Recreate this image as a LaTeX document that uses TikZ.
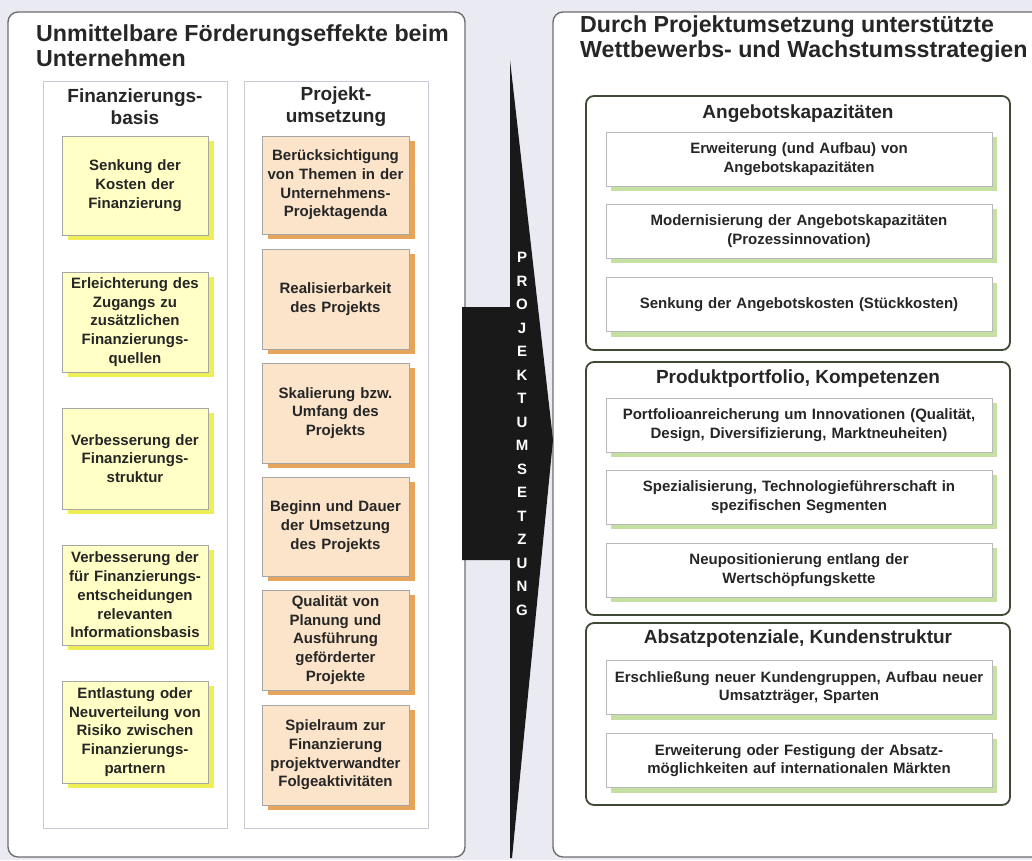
\documentclass[tikz,border=0pt]{standalone}
\usepackage{fontspec}
\setmainfont{Liberation Sans}
\usetikzlibrary{shadows}
\definecolor{bgc}{HTML}{EAEAF2}
\definecolor{panelc}{HTML}{6E6E6E}
\definecolor{colc}{HTML}{C8C8D6}
\definecolor{yfill}{HTML}{FFFFC6}
\definecolor{yshad}{HTML}{EEEE55}
\definecolor{ofill}{HTML}{FBE4CA}
\definecolor{oshad}{HTML}{E6A55A}
\definecolor{wbord}{HTML}{B8B8B8}
\definecolor{gshad}{HTML}{C6E0A4}
\definecolor{grpc}{HTML}{3E4A36}
\definecolor{txt}{HTML}{262626}
\begin{document}
\begin{tikzpicture}[x=1pt,y=-1pt,
  panel/.style={draw=panelc,line width=1.4pt,rounded corners=10pt,fill=white},
  colbox/.style={draw=colc,line width=0.8pt,fill=white},
  boxtext/.style={text=txt,align=center,inner sep=0pt,font=\bfseries\fontsize{15}{18.7}\selectfont},
  ybox/.style={boxtext,draw=gray!70,line width=0.6pt,fill=yfill,minimum width=146pt,text width=144pt,
    drop shadow={shadow xshift=6pt,shadow yshift=-5pt,fill=yshad,opacity=1}},
  obox/.style={boxtext,draw=gray!70,line width=0.6pt,fill=ofill,minimum width=147pt,text width=145pt,
    drop shadow={shadow xshift=6pt,shadow yshift=-5pt,fill=oshad,opacity=1}},
  wbox/.style={boxtext,draw=wbord,line width=0.6pt,fill=white,minimum width=386pt,minimum height=54pt,text width=384pt,
    drop shadow={shadow xshift=5pt,shadow yshift=-5pt,fill=gshad,opacity=1}},
  grp/.style={draw=grpc,line width=1.8pt,rounded corners=8pt,fill=white},
  title/.style={text=txt,align=left,inner sep=0pt,anchor=west,font=\bfseries\fontsize{23.2}{25}\selectfont},
  head/.style={text=txt,align=center,inner sep=0pt,font=\bfseries\fontsize{19}{21.7}\selectfont},
]
\useasboundingbox (0,0) rectangle (1032,860);
\fill[bgc] (0,0) rectangle (1032,860);

% panels
\draw[panel] (8,12) rectangle (465,857);
\draw[panel] (553,12) rectangle (1050,857);

% titles
\node[title] (tl) at (36,45.5) {Unmittelbare Förderungseffekte beim\\Unternehmen};
\node[title] (tr) at (580,39.5) {Durch Projektumsetzung unterstützte\\Wettbewerbs- und Wachstumsstrategien};

% columns
\draw[colbox] (43,81) rectangle (227,828);
\draw[colbox] (244,81) rectangle (428,828);
\node[head] (hf) at (135,106.5) {Finanzierungs-\\basis};
\node[head] (hp) at (336,106.5) {Projekt-\\umsetzung};

% yellow boxes
\node[ybox,minimum height=99pt] (y1) at (135,185.5) {Senkung der\\Kosten der\\Finanzierung};
\node[ybox,minimum height=100pt] (y2) at (135,322) {Erleichterung des\\Zugangs zu\\zusätzlichen\\Finanzierungs-\\quellen};
\node[ybox,minimum height=101pt] (y3) at (135,458.5) {Verbesserung der\\Finanzierungs-\\struktur};
\node[ybox,minimum height=100pt] (y4) at (135,595) {Verbesserung der\\für Finanzierungs-\\entscheidungen\\relevanten\\Informationsbasis};
\node[ybox,minimum height=102pt] (y5) at (135,732) {Entlastung oder\\Neuverteilung von\\Risiko zwischen\\Finanzierungs-\\partnern};

% orange boxes
\node[obox,minimum height=98pt] (o1) at (335.5,185) {Berücksichtigung\\von Themen in der\\Unternehmens-\\Projektagenda};
\node[obox,minimum height=100pt] (o2) at (335.5,299) {Realisierbarkeit\\des Projekts};
\node[obox,minimum height=100pt] (o3) at (335.5,413) {Skalierung bzw.\\Umfang des\\Projekts};
\node[obox,minimum height=99pt] (o4) at (335.5,526.5) {Beginn und Dauer\\der Umsetzung\\des Projekts};
\node[obox,minimum height=100pt] (o5) at (335.5,640) {Qualität von\\Planung und\\Ausführung\\geförderter\\Projekte};
\node[obox,minimum height=100pt] (o6) at (335.5,755) {Spielraum zur\\Finanzierung\\projektverwandter\\Folgeaktivitäten};

% arrow
\fill[black!90] (510,60) -- (553,440) -- (512,858) -- (510,858) -- (510,560) -- (462,560) -- (462,307) -- (510,307) -- cycle;
\node[text=white,align=center,inner sep=0pt,font=\bfseries\fontsize{15}{23.5}\selectfont] (pu) at (522,434)
  {P\\R\\O\\J\\E\\K\\T\\U\\M\\S\\E\\T\\Z\\U\\N\\G};

% right groups
\draw[grp] (586,96) rectangle (1010,350);
\draw[grp] (586,362) rectangle (1010,615);
\draw[grp] (586,623) rectangle (1010,805);
\node[head] (g1) at (798,113.5) {Angebotskapazitäten};
\node[head] (g2) at (798,378.5) {Produktportfolio, Kompetenzen};
\node[head] (g3) at (798,638.5) {Absatzpotenziale, Kundenstruktur};

\node[wbox] (a1) at (799,159) {Erweiterung (und Aufbau) von\\Angebotskapazitäten};
\node[wbox] (a2) at (799,231) {Modernisierung der Angebotskapazitäten\\(Prozessinnovation)};
\node[wbox] (a3) at (799,304.5) {Senkung der Angebotskosten (Stückkosten)};
\node[wbox] (b1) at (799,425) {Portfolioanreicherung um Innovationen (Qualität,\\Design, Diversifizierung, Marktneuheiten)};
\node[wbox] (b2) at (799,497) {Spezialisierung, Technologieführerschaft in\\spezifischen Segmenten};
\node[wbox] (b3) at (799,570) {Neupositionierung entlang der\\Wertschöpfungskette};
\node[wbox] (c1) at (799,687.5) {Erschließung neuer Kundengruppen, Aufbau neuer\\Umsatzträger, Sparten};
\node[wbox] (c2) at (799,760.5) {Erweiterung oder Festigung der Absatz-\\möglichkeiten auf internationalen Märkten};
\end{tikzpicture}
\end{document}
